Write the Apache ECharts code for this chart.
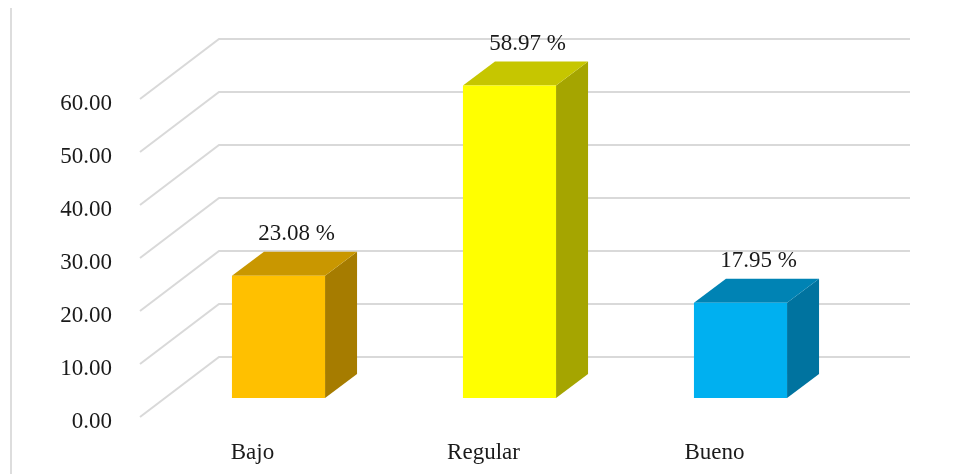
<!DOCTYPE html>
<html>
<head>
<meta charset="utf-8">
<script src="https://cdn.jsdelivr.net/npm/echarts@6/dist/echarts.min.js"></script>
<style>
  html, body { margin: 0; padding: 0; background: #fff; }
  #chart { width: 955px; height: 474px; }
</style>
</head>
<body>
<div id="chart"></div>
<script>
// Categories and percentages
const categories = ['Bajo', 'Regular', 'Bueno'];
const percentages = [23.08, 58.97, 17.95];
const yTicks = [0, 10, 20, 30, 40, 50, 60];

// Face colours per bar: front, top, side
const frontColors = ['#FFC000', '#FFFF00', '#00B0F0'];
const topColors = ['#C99700', '#C6C600', '#0083B4'];
const sideColors = ['#A67C00', '#A5A500', '#00739F'];

const FONT = "'Liberation Serif', 'DejaVu Serif', serif";
const FONT_SIZE = 23;
const DEPTH_X = 32, DEPTH_Y = -24;     // bar depth
const FLOOR_FX = -23, FLOOR_FY = 19;   // floor front edge relative to bar plane
const FLOOR_BX = 56, FLOOR_BY = -41;   // back wall relative to bar plane

const chart = echarts.init(document.getElementById('chart'));

function renderGridLine(params, api) {
  const v = api.value(0);
  const cs = params.coordSys;
  const y = api.coord([0, v])[1];
  const left = cs.x, right = cs.x + cs.width;
  return {
    type: 'group',
    children: [
      {
        type: 'polyline',
        shape: { points: [
          [left + FLOOR_FX, y + FLOOR_FY],
          [left + FLOOR_BX, y + FLOOR_BY],
          [right + FLOOR_BX - 2, y + FLOOR_BY]
        ] },
        style: { stroke: '#D9D9D9', lineWidth: 2, fill: null }
      },
      {
        type: 'text',
        x: left - 51, y: y + FLOOR_FY + 5,
        style: {
          text: v.toFixed(2), font: FONT_SIZE + 'px ' + FONT, fill: '#1a1a1a',
          align: 'right', verticalAlign: 'middle'
        }
      }
    ]
  };
}

function renderBar(params, api) {
  const i = api.value(0);
  const v = api.value(1);
  const base = api.coord([i, 0]);
  const top = api.coord([i, v]);
  const w = api.size([1, 0])[0] * 0.403;
  const x0 = base[0] - w / 2, x1 = base[0] + w / 2;
  const yb = base[1], yt = top[1];
  return {
    type: 'group',
    children: [
      {
        type: 'polygon',
        shape: { points: [[x1, yb], [x1 + DEPTH_X, yb + DEPTH_Y], [x1 + DEPTH_X, yt + DEPTH_Y], [x1, yt]] },
        style: { fill: sideColors[i] }
      },
      {
        type: 'polygon',
        shape: { points: [[x0, yt], [x1, yt], [x1 + DEPTH_X, yt + DEPTH_Y], [x0 + DEPTH_X, yt + DEPTH_Y]] },
        style: { fill: topColors[i] }
      },
      {
        type: 'rect',
        shape: { x: x0, y: yt, width: w, height: yb - yt },
        style: { fill: frontColors[i] }
      },
      {
        type: 'text',
        x: base[0] + 18, y: yt + DEPTH_Y - 18,
        style: {
          text: v.toFixed(2) + ' %', font: FONT_SIZE + 'px ' + FONT, fill: '#1a1a1a',
          align: 'center', verticalAlign: 'middle'
        }
      }
    ]
  };
}

chart.setOption({
  animation: false,
  backgroundColor: '#fff',
  grid: { left: 163, right: 99, top: 80, bottom: 76 },
  xAxis: {
    type: 'category',
    data: categories,
    axisLine: { show: false },
    axisTick: { show: false },
    axisLabel: {
      margin: 43,
      padding: [0, 52, 0, 0],
      fontFamily: FONT, fontSize: FONT_SIZE, color: '#1a1a1a'
    },
    splitLine: { show: false }
  },
  yAxis: {
    type: 'value',
    min: 0, max: 60, interval: 10,
    axisLine: { show: false },
    axisTick: { show: false },
    axisLabel: { show: false },
    splitLine: { show: false }
  },
  graphic: [{
    type: 'line',
    shape: { x1: 11, y1: 8, x2: 11, y2: 474 },
    style: { stroke: '#DDDDDD', lineWidth: 2 }
  }],
  series: [
    {
      type: 'custom',
      z: 1,
      renderItem: renderGridLine,
      data: yTicks.map(v => [v]),
      encode: { y: 0 },
      silent: true
    },
    {
      type: 'custom',
      z: 2,
      renderItem: renderBar,
      data: percentages.map((v, i) => [i, v]),
      encode: { x: 0, y: 1 }
    }
  ]
});
</script>
</body>
</html>
